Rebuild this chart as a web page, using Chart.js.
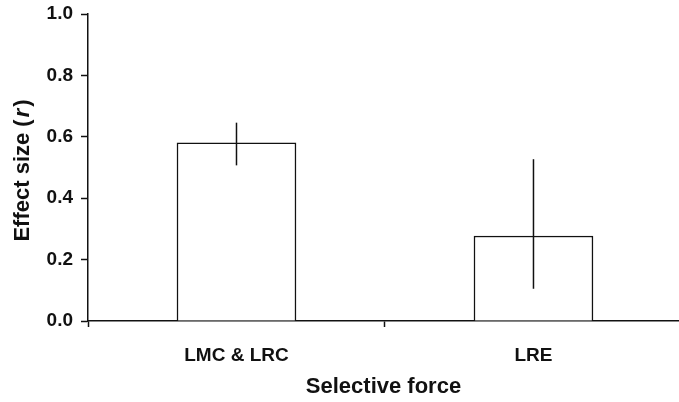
<!DOCTYPE html>
<html>
<head>
<meta charset="utf-8">
<script src="https://cdn.jsdelivr.net/npm/chart.js@4.4.1/dist/chart.umd.min.js"></script>
<style>
  body { margin: 0; background: #fff; }
  canvas { display: block; }
</style>
</head>
<body>
<canvas id="effectChart" width="679" height="402"></canvas>
<script>
    const categories = ['LMC & LRC', 'LRE'];
    const effectSize = [0.58, 0.277];
    const errorLow = [0.507, 0.105];
    const errorHigh = [0.646, 0.527];
    const yTitle = ['Effect size (', 'r', ')'];
    const xTitle = 'Selective force';

    const fontFamily = '"Liberation Sans", Arial, sans-serif';
    const ink = '#111';

    // bars sit halfway between integer positions, category boundaries at 0, 1, 2
    const barPoints = categories.map((c, i) => ({ x: i + 0.5, y: effectSize[i] }));

    const errorBars = {
      id: 'errorBars',
      afterDatasetsDraw(chart) {
        const { ctx, scales } = chart;
        ctx.save();
        ctx.strokeStyle = ink;
        ctx.lineWidth = 1.5;
        categories.forEach((c, i) => {
          const px = scales.x.getPixelForValue(i + 0.5);
          ctx.beginPath();
          ctx.moveTo(px, scales.y.getPixelForValue(errorLow[i]));
          ctx.lineTo(px, scales.y.getPixelForValue(errorHigh[i]));
          ctx.stroke();
        });
        ctx.restore();
      }
    };

    const yAxisTitle = {
      id: 'yAxisTitle',
      afterDraw(chart) {
        const { ctx, chartArea } = chart;
        const fonts = [
          'bold 22px ' + fontFamily,
          'italic bold 22px ' + fontFamily,
          'bold 22px ' + fontFamily
        ];
        ctx.save();
        ctx.translate(23, (chartArea.top + chartArea.bottom) / 2 + 3);
        ctx.rotate(-Math.PI / 2);
        ctx.fillStyle = ink;
        ctx.textBaseline = 'middle';
        ctx.textAlign = 'left';
        const widths = yTitle.map((t, i) => { ctx.font = fonts[i]; return ctx.measureText(t).width; });
        const gap = 2;
        let x = -(widths.reduce((a, b) => a + b, 0) + gap * 2) / 2;
        yTitle.forEach((t, i) => {
          ctx.font = fonts[i];
          ctx.fillText(t, x, 0);
          x += widths[i] + gap;
        });
        ctx.restore();
      }
    };

    new Chart(document.getElementById('effectChart'), {
      type: 'bar',
      data: {
        datasets: [{
          data: barPoints,
          backgroundColor: '#fff',
          borderColor: ink,
          borderWidth: 1.5,
          barThickness: 119
        }]
      },
      options: {
        responsive: false,
        animation: false,
        layout: { padding: { left: 0, right: 0, top: 14, bottom: 0 } },
        plugins: { legend: { display: false }, tooltip: { enabled: false } },
        scales: {
          x: {
            type: 'linear',
            offset: false,
            min: 0,
            max: 1.99,
            afterFit(scale) { scale.height = 81; },
            border: { display: true, color: ink, width: 1.5 },
            grid: {
              offset: false,
              drawOnChartArea: false,
              tickLength: 6,
              tickWidth: 1.5,
              tickColor: ctx => (ctx.tick && Number.isInteger(ctx.tick.value)) ? ink : 'rgba(0,0,0,0)'
            },
            ticks: {
              stepSize: 0.5,
              includeBounds: false,
              autoSkip: false,
              maxRotation: 0,
              padding: 17,
              color: ink,
              font: { family: fontFamily, size: 19, weight: 'bold' },
              callback: value => {
                const i = value - 0.5;
                return Number.isInteger(i) && categories[i] ? categories[i] : '';
              }
            },
            title: {
              display: true,
              text: xTitle,
              color: ink,
              font: { family: fontFamily, size: 22, weight: 'bold' },
              padding: { top: 0, bottom: 2 }
            }
          },
          y: {
            min: 0,
            max: 1,
            afterFit(scale) {
              scale.width = 88;
              scale.paddingTop = 0;
              scale.paddingBottom = 0;
            },
            border: { display: true, color: ink, width: 1.5 },
            grid: {
              drawOnChartArea: false,
              tickLength: 7,
              tickWidth: 1.5,
              tickColor: ink
            },
            ticks: {
              stepSize: 0.2,
              padding: 8,
              color: ink,
              font: { family: fontFamily, size: 19, weight: 'bold' },
              callback: value => value.toFixed(1)
            }
          }
        }
      },
      plugins: [errorBars, yAxisTitle]
    });
</script>
</body>
</html>
